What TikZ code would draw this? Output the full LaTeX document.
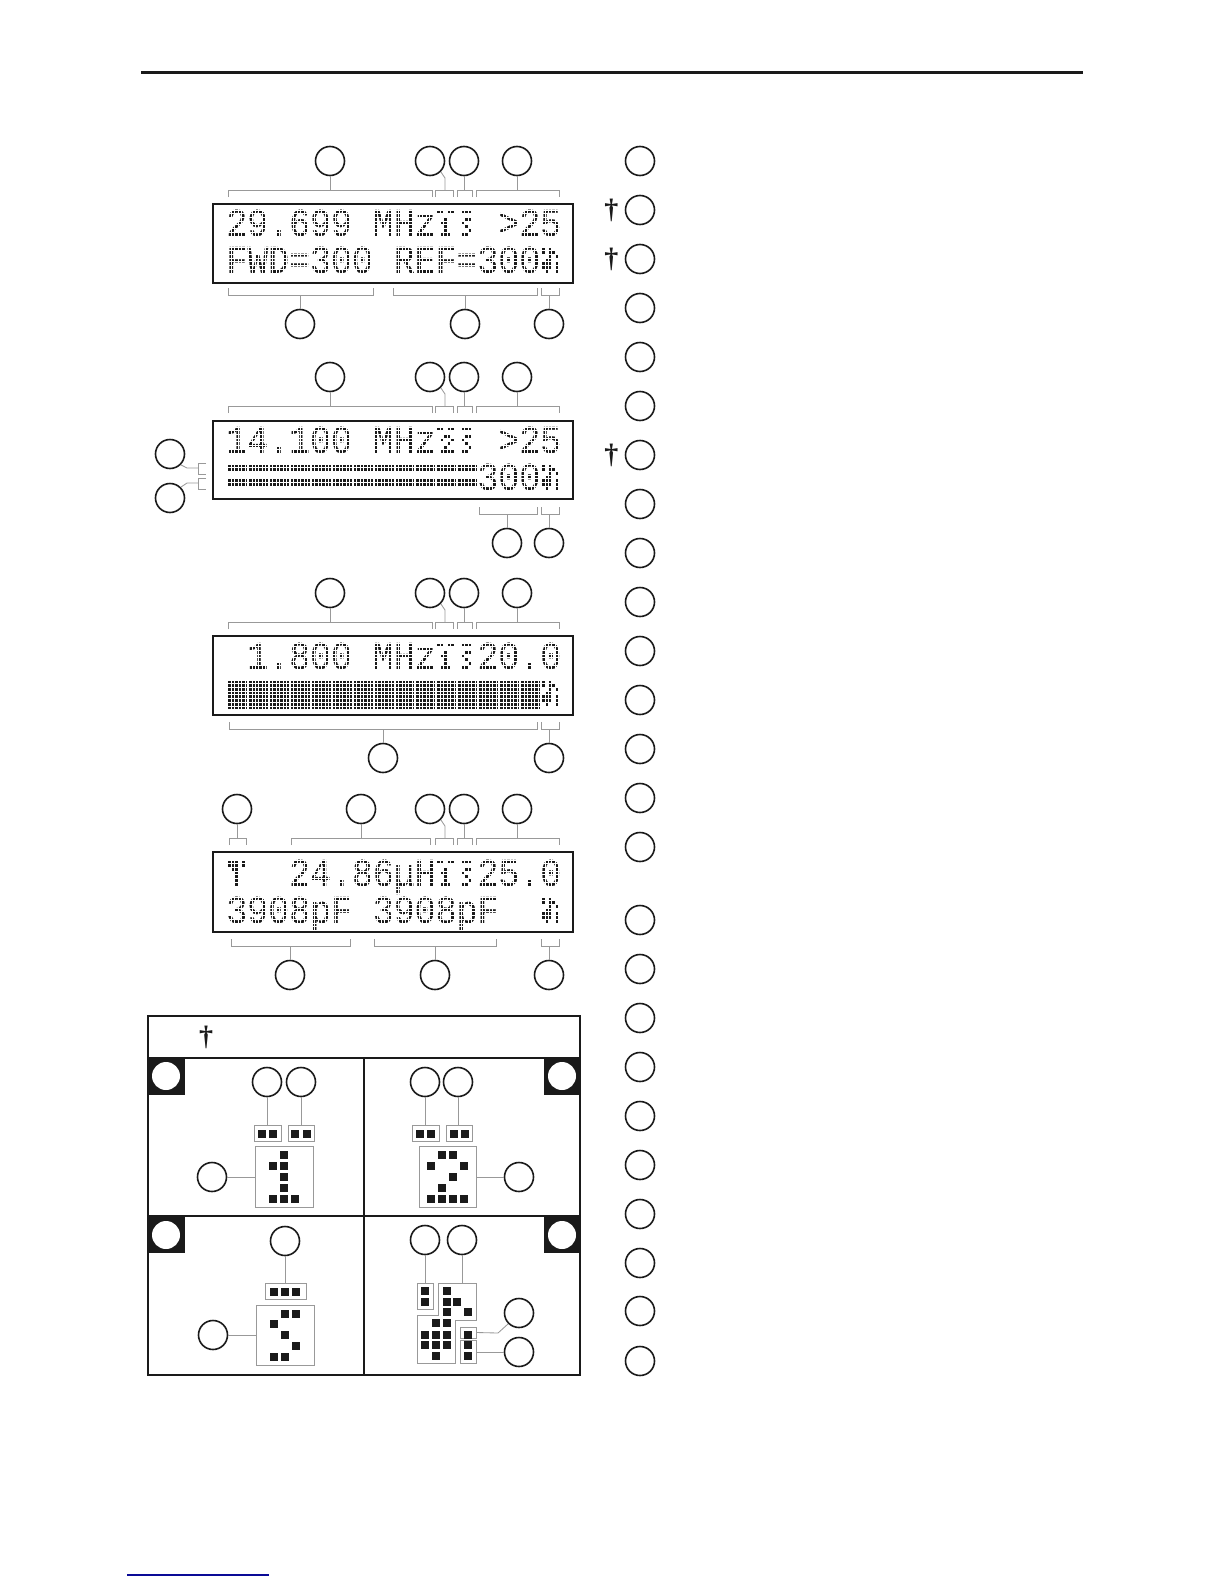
\documentclass[tikz,border=0pt]{standalone}
\usepackage{fontspec}
\usepackage{xcolor}
\usetikzlibrary{positioning}
\setmainfont{Liberation Serif}
\newfontfamily\lcdfont[FakeStretch=0.885,FakeBold=0.35]{Liberation Mono}
\definecolor{inkblack}{HTML}{1A1A1A}
\definecolor{leadgray}{HTML}{999999}
\definecolor{footblue}{HTML}{0A0A96}
\def\lcdleft{227.5}
\def\lcdpitch{3.488}
% LCD characters that are not text: col/row pairs
\def\glyphA{0/0,1/0,3/0,4/0,2/2,1/3,2/3,2/4,2/5,1/6,2/6,3/6}
\def\glyphB{0/0,1/0,3/0,4/0,2/2,3/2,1/3,4/3,3/4,2/5,1/6,2/6,3/6,4/6}
\def\glyphC{1/0,2/0,3/0,2/2,3/2,1/3,2/4,3/5,1/6,2/6}
\def\glyphD{0/0,2/0,0/1,2/1,3/1,2/2,4/2,1/3,2/3,0/4,1/4,2/4,4/4,0/5,1/5,2/5,4/5,1/6,4/6}
\def\glyphE{0/0,1/0,2/0,4/0,0/1,1/1,2/1,4/1,1/2,2/2,2/3,2/4,2/5,2/6}
\newcommand{\lcdcells}[3]{%
  \foreach \cc/\rr in #3
    \fill[inkblack] ({\lcdleft+\lcdpitch*(6*#1+\cc)},{#2+3.7*\rr}) rectangle ++(\lcdpitch,3.7);}
\newcommand{\lcdbar}[4]{%
  \foreach \cc in {0,...,#1}
    \fill[inkblack] ({\lcdleft+\lcdpitch*6*\cc},{#2+3.7*#3}) rectangle ++({\lcdpitch*5.6},{3.7*#4});}
\newcommand{\lcdtext}[4]{\node[lcdtext] (#1) at ({226+6*\lcdpitch*#2},{#3+25.9}) {#4};}
\newcommand{\lcdmask}[1]{%
  \foreach \k in {0,...,95}
    \draw[lcdgap] ({\lcdleft+\lcdpitch*\k},#1-7) -- ++(0,78);
  \foreach \k in {-2,...,20}
    \draw[lcdgap] (214,{#1+3.7*\k}) -- (572,{#1+3.7*\k});}
\newcommand{\callbr}[6]{%
  \node[callout] (#1) at (#2,{#5-29*#6}) {};
  \coordinate (#1b) at (#2,#5);
  \draw[lead] (#1) -- (#1b);
  \draw[lead] (#3,{#5+7*#6}) -- (#3,#5) -- (#4,#5) -- (#4,{#5+7*#6});}
\newcommand{\callel}[2]{%
  \node[callout] (#1) at (430,#2-29) {};
  \coordinate (#1b) at (445,#2);
  \draw[lead] (#1.-45) -- (445,#2-12) -- (#1b);
  \draw[lead] (435,#2+7) -- (435,#2) -- (453,#2) -- (453,#2+7);}
\newcommand{\pixbox}[5]{%
  \node[pixbox,minimum width={(#4-#2)*0.5pt},minimum height={(#5-#3)*0.5pt}] (#1) at ({(#2+#4)/2},{(#3+#5)/2}) {};}
\newcommand{\pixels}[1]{%
  \foreach \xx/\yy in {#1}
    \fill[inkblack] (\xx-3.9,\yy-3.9) rectangle ++(7.8,7.8);}
\begin{document}
\begin{tikzpicture}[
  x=0.5pt,y=-0.5pt,
  callout/.style={circle,draw=inkblack,line width=0.8pt,fill=white,minimum size=14.5pt,inner sep=0pt},
  tagdot/.style={circle,fill=white,minimum size=14pt,inner sep=0pt},
  lead/.style={draw=leadgray,line width=0.42pt},
  pixbox/.style={rectangle,draw=leadgray,line width=0.42pt,inner sep=0pt},
  lcdframe/.style={draw=inkblack,line width=1.2pt},
  lcdgap/.style={draw=white,line width=0.4pt},
  lcdtext/.style={font=\fontsize{19.7pt}{20pt}\lcdfont,anchor=base west,inner sep=0pt,text=inkblack},
  dagger/.style={font=\fontsize{14pt}{14pt}\selectfont\bfseries,inner sep=0pt,text=inkblack},
  grid line/.style={draw=inkblack,line width=1.2pt}
]
\useasboundingbox (0,0) rectangle (1224,1584);
\draw[inkblack,line width=1.5pt] (141,73) -- (1083,73);
\draw[footblue,line width=0.7pt] (127,1575) -- (269,1575);

% first display
\lcdtext{aa}{0}{210}{29.699}
\lcdtext{ab}{7}{210}{MHz}
\lcdtext{ac}{13}{210}{>25}
\lcdtext{ad}{0}{247}{FWD=300}
\lcdtext{ae}{8}{247}{REF=300}
\lcdcells{10}{210}{\glyphA}
\lcdcells{11}{210}{\glyphC}
\lcdcells{15}{247}{\glyphD}
\lcdmask{210}
\draw[lcdframe] (213,204) rectangle (573,283);

% second display
\lcdtext{ba}{0}{427}{14.100}
\lcdtext{bb}{7}{427}{MHz}
\lcdtext{bc}{13}{427}{>25}
\lcdtext{bd}{12}{464}{300}
\lcdbar{11}{464}{0}{2}
\lcdbar{11}{464}{4}{2}
\lcdcells{10}{427}{\glyphB}
\lcdcells{11}{427}{\glyphC}
\lcdcells{15}{464}{\glyphD}
\lcdmask{427}
\draw[lcdframe] (213,421) rectangle (573,499);

% third display
\lcdtext{ca}{1}{643}{1.800}
\lcdtext{cb}{7}{643}{MHz}
\lcdtext{cc}{12}{643}{20.0}
\lcdbar{14}{680}{0}{8}
\lcdcells{10}{643}{\glyphA}
\lcdcells{11}{643}{\glyphC}
\lcdcells{15}{680}{\glyphD}
\lcdmask{643}
\draw[lcdframe] (213,636) rectangle (573,715);

% fourth display
\lcdtext{da}{3}{860}{24.86}
\lcdtext{db}{8}{860}{μH}
\lcdtext{dc}{12}{860}{25.0}
\lcdtext{dd}{0}{897}{3908pF}
\lcdtext{de}{7}{897}{3908pF}
\lcdcells{0}{860}{\glyphE}
\lcdcells{10}{860}{\glyphA}
\lcdcells{11}{860}{\glyphC}
\lcdcells{15}{897}{\glyphD}
\lcdmask{860}
\draw[lcdframe] (213,852) rectangle (573,932);

% callouts over the displays
\foreach \nm/\yb in {a/190,b/406,c/622} {
  \callbr{\nm1}{330}{228}{432}{\yb}{1}
}
\callbr{d0}{237}{229}{246}{838}{1}
\callbr{d1}{361}{291}{430}{838}{1}
\foreach \nm/\yb in {a/190,b/406,c/622,d/838} {
  \callel{\nm2}{\yb}
  \callbr{\nm3}{464}{457}{472}{\yb}{1}
  \callbr{\nm4}{517}{476}{559}{\yb}{1}
}
% callouts under the displays
\callbr{a5}{300}{228}{373}{295}{-1}
\callbr{a6}{465}{393}{537}{295}{-1}
\callbr{a7}{549}{541}{559}{295}{-1}
\callbr{b6}{507}{479}{537}{514}{-1}
\callbr{b7}{549}{541}{559}{514}{-1}
\callbr{c6}{383}{229}{537}{729}{-1}
\callbr{c7}{549}{541}{559}{729}{-1}
\callbr{d5}{290}{231}{350}{946}{-1}
\callbr{d6}{435}{374}{496}{946}{-1}
\callbr{d7}{549}{541}{559}{946}{-1}
% left of the second display
\node[callout] (bl) at (170,454) {};
\node[callout] (bm) at (170,498) {};
\coordinate (blb) at (198,468);
\coordinate (bmb) at (198,483);
\draw[lead] (bl.-45) -- (187,468) -- (blb);
\draw[lead] (bm.45) -- (187,483) -- (bmb);
\draw[lead] (206,463) -- (198,463) -- (198,474) -- (206,474);
\draw[lead] (206,478) -- (198,478) -- (198,489) -- (206,489);

% column of callouts on the right
\foreach \yy [count=\i] in {161,210,259,308,357,406,455,504,553,602,651,700,749,798,847,920,969,1018,1067,1116,1165,1214,1263,1311,1361} {
  \node[callout] (r\i) at (640,\yy) {};
}
\node[dagger,left=3pt of r2] (g1) {†};
\node[dagger,left=3pt of r3] (g2) {†};
\node[dagger,left=3pt of r7] (g3) {†};

% table
\draw[grid line] (148,1016) rectangle (580,1375);
\draw[grid line] (148,1058) -- (580,1058);
\draw[grid line] (148,1216) -- (580,1216);
\draw[grid line] (364,1058) -- (364,1375);
\node[dagger] (g4) at (206,1037) {†};
\fill[inkblack] (148,1058) rectangle (185,1095);
\fill[inkblack] (544,1058) rectangle (580,1095);
\fill[inkblack] (148,1216) rectangle (185,1253);
\fill[inkblack] (544,1216) rectangle (580,1253);
\node[tagdot] (t1) at (166,1076) {};
\node[tagdot] (t2) at (562,1076) {};
\node[tagdot] (t3) at (166,1235) {};
\node[tagdot] (t4) at (562,1235) {};

% first panel
\node[callout] (pa) at (267,1082) {};
\node[callout] (pb) at (301,1082) {};
\node[callout] (pc) at (212,1177) {};
\pixbox{qa}{254}{1125}{281}{1141}
\pixbox{qb}{288}{1125}{314}{1141}
\pixbox{qc}{255}{1146}{313}{1207}
\draw[lead] (pa) -- (pa |- qa.north);
\draw[lead] (pb) -- (pb |- qb.north);
\draw[lead] (pc) -- (pc -| qc.west);
\pixels{262/1134,273/1134,295/1134,307/1134,284/1155,273/1166,284/1166,284/1177,284/1188,273/1199,284/1199,295/1199}

% second panel
\node[callout] (pd) at (425,1082) {};
\node[callout] (pe) at (458,1082) {};
\node[callout] (pf) at (519,1177) {};
\pixbox{qd}{412}{1125}{439}{1141}
\pixbox{qe}{446}{1125}{472}{1141}
\pixbox{qf}{419}{1146}{476}{1207}
\draw[lead] (pd) -- (pd |- qd.north);
\draw[lead] (pe) -- (pe |- qe.north);
\draw[lead] (pf) -- (pf -| qf.east);
\pixels{420/1134,431/1134,454/1134,465/1134,442/1155,453/1155,431/1166,464/1166,453/1177,442/1188,431/1199,442/1199,453/1199,464/1199}

% third panel
\node[callout] (pg) at (285,1241) {};
\node[callout] (ph) at (213,1335) {};
\pixbox{qg}{265}{1283}{306}{1299}
\pixbox{qh}{256}{1305}{314}{1365}
\draw[lead] (pg) -- (pg |- qg.north);
\draw[lead] (ph) -- (ph -| qh.west);
\pixels{274/1292,285/1292,296/1292,285/1314,296/1314,274/1324,285/1335,296/1346,274/1357,285/1357}

% fourth panel
\node[callout] (pi) at (425,1240) {};
\node[callout] (pj) at (462,1240) {};
\node[callout] (pk) at (519,1313) {};
\node[callout] (pl) at (519,1352) {};
\pixbox{qi}{417}{1283}{433}{1309}
\pixbox{qk}{460}{1327}{476}{1338}
\pixbox{ql}{460}{1340}{476}{1363}
\coordinate (qj) at (462,1283);
\draw[lead] (438,1283) -- (476,1283) -- (476,1320) -- (455,1320) -- (455,1363) -- (417,1363) -- (417,1315) -- (438,1315) -- cycle;
\draw[lead] (pi) -- (pi |- qi.north);
\draw[lead] (pj) -- (qj);
\draw[lead] (qk.east) -- (498,1333) -- (pk.-135);
\draw[lead] (pl) -- (pl -| ql.east);
\pixels{425/1291,425/1302,447/1291,447/1302,457/1302,447/1312,468/1312,436/1323,447/1323,425/1335,436/1335,447/1335,468/1335,425/1345,436/1345,447/1345,468/1345,436/1356,468/1356}
\end{tikzpicture}
\end{document}
